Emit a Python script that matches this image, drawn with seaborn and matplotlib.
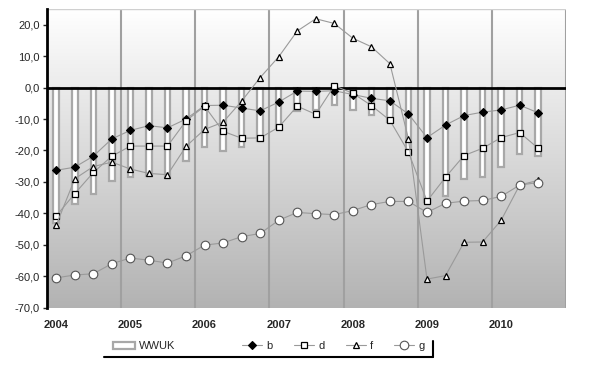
import numpy as np
import matplotlib
matplotlib.use("Agg")
import matplotlib.pyplot as plt
from matplotlib.lines import Line2D
from matplotlib.patches import Patch
import seaborn as sns

# ---- data ----
quarters = list(range(27))  # 2004Q1 .. 2010Q3
years = ["2004", "2005", "2006", "2007", "2008", "2009", "2010"]
wwuk = [-43.0, -37.0, -33.7, -29.6, -28.4, -28.0, -28.7, -23.3,
        -19.0, -20.2, -18.9, -17.0, -13.0, -7.4, -7.2, -5.4,
        -7.2, -8.8, -11.0, -21.2, -36.5, -34.6, -29.2, -28.4,
        -25.2, -21.0, -21.8]
b = [-26.3, -25.3, -21.8, -16.3, -13.6, -12.1, -12.8, -10.0,
     -5.7, -5.6, -6.5, -7.4, -4.6, -1.1, -1.2, -1.0,
     -2.2, -3.4, -4.2, -8.4, -15.9, -11.9, -8.9, -7.8,
     -7.1, -5.6, -8.0]
d = [-40.8, -33.7, -27.0, -21.8, -18.6, -18.6, -18.6, -10.6,
     -5.9, -13.9, -16.1, -16.0, -12.6, -5.9, -8.5, 0.6,
     -1.8, -5.7, -10.4, -20.5, -36.1, -28.5, -21.6, -19.3,
     -15.9, -14.3, -19.3]
f = [-43.7, -29.0, -25.1, -23.7, -25.9, -27.3, -27.7, -18.7,
     -13.3, -11.0, -4.3, 3.2, 9.8, 18.0, 21.9, 20.4,
     15.7, 13.0, 7.6, -16.3, -60.9, -59.8, -49.2, -49.1,
     -42.2, -31.0, -29.5]
g = [-60.5, -59.6, -59.2, -56.0, -54.2, -54.9, -55.8, -53.5,
     -50.1, -49.4, -47.4, -46.4, -42.2, -39.7, -40.1, -40.4,
     -39.1, -37.2, -36.2, -36.2, -39.7, -36.8, -36.1, -35.9,
     -34.6, -31.0, -30.2]
yticks = list(range(-70, 21, 10))

sns.set_style("white")
plt.rcParams['font.family'] = ['Liberation Sans', 'DejaVu Sans']

fig = plt.figure(figsize=(6.0, 3.74), dpi=100)
ax = fig.add_axes([47/600, 1-307.7/374, (566-47)/600, (307.7-9)/374])

XMIN, XMAX, YMIN, YMAX = -0.5, 27.5, -70, 25

bar_edge = "#a8a8a8"
sns.barplot(x=quarters, y=wwuk, native_scale=True, width=0.3, color="white",
            edgecolor=bar_edge, linewidth=1.6, errorbar=None, ax=ax, zorder=2,
            saturation=1)

line_col = "#9a9a9a"
styles = {
    'b': dict(marker='D', markersize=4.3, markerfacecolor='black',
              markeredgecolor='black', markeredgewidth=0.8),
    'd': dict(marker='s', markersize=3.8, markerfacecolor='white',
              markeredgecolor='black', markeredgewidth=0.9),
    'f': dict(marker='^', markersize=4.3, markerfacecolor='white',
              markeredgecolor='black', markeredgewidth=0.9),
    'g': dict(marker='o', markersize=6.2, markerfacecolor='white',
              markeredgecolor='#555555', markeredgewidth=0.8),
}
for name, vals in [('b', b), ('d', d), ('f', f), ('g', g)]:
    sns.lineplot(x=quarters, y=vals, ax=ax, color=line_col, lw=0.8,
                 zorder=4, **styles[name])

# gradient background (white at top -> gray at bottom), data coords
n = 200
t = np.linspace(0.0, 1.0, n)
top_c = np.array([1.0, 1.0, 1.0])
bot_c = np.array([0.70, 0.70, 0.70])
rgb = top_c[None, :] * (1 - t[:, None]) + bot_c[None, :] * t[:, None]
img = np.repeat(rgb[:, None, :], 2, axis=1)
ax.imshow(img, extent=[XMIN, XMAX, YMIN, YMAX], aspect='auto',
          origin='upper', interpolation='bilinear', zorder=0)

ax.set_xlim(XMIN, XMAX)
ax.set_ylim(YMIN, YMAX)

# year separators
for k in range(1, 8):
    ax.axvline(4 * k - 0.5, color="#a0a0a0", lw=1.5, zorder=1)
ax.axhline(0, color='black', lw=2, zorder=3)

ax.set_yticks(yticks)
ax.set_yticklabels([f"{v:.1f}".replace('.', ',') for v in yticks], fontsize=8)
ax.set_xticks(quarters[::4])
ax.set_xticklabels(years, fontsize=8, fontweight='bold')
ax.tick_params(axis='x', length=0, pad=9)
ax.tick_params(axis='y', length=3, width=1, direction='out', pad=2, left=True)
ax.set_xlabel("")
ax.set_ylabel("")

for s in ['top', 'bottom', 'right']:
    ax.spines[s].set_visible(False)
ax.spines['left'].set_color('black')
ax.spines['left'].set_linewidth(2)
ax.axhline(YMAX, color='#d0d0d0', lw=1, zorder=1)

# legend: WWUK separately, lines grouped
leg1 = fig.legend([Patch(facecolor='white', edgecolor=bar_edge, linewidth=1.6)],
                  ["WWUK"], loc='center left',
                  bbox_to_anchor=(113/600, 1-346/374), frameon=False, fontsize=8,
                  handlelength=2.0, handleheight=0.6, handletextpad=0.3,
                  borderaxespad=0, borderpad=0)
line_handles = [Line2D([], [], color=line_col, lw=0.8, **styles[k])
                for k in ['b', 'd', 'f', 'g']]
leg2 = fig.legend(line_handles, ["b", "d", "f", "g"], ncol=4, loc='center left',
                  bbox_to_anchor=(242/600, 1-346/374), frameon=False, fontsize=8,
                  handlelength=1.8, handletextpad=0.4, columnspacing=1.9,
                  borderaxespad=0, borderpad=0)

fig.add_artist(Line2D([104/600, 433/600], [1-357/374, 1-357/374],
                      color='black', lw=1.5, transform=fig.transFigure))
fig.add_artist(Line2D([433/600, 433/600], [1-357/374, 1-341/374],
                      color='black', lw=1.5, transform=fig.transFigure))

fig.savefig("out.png", dpi=100)
